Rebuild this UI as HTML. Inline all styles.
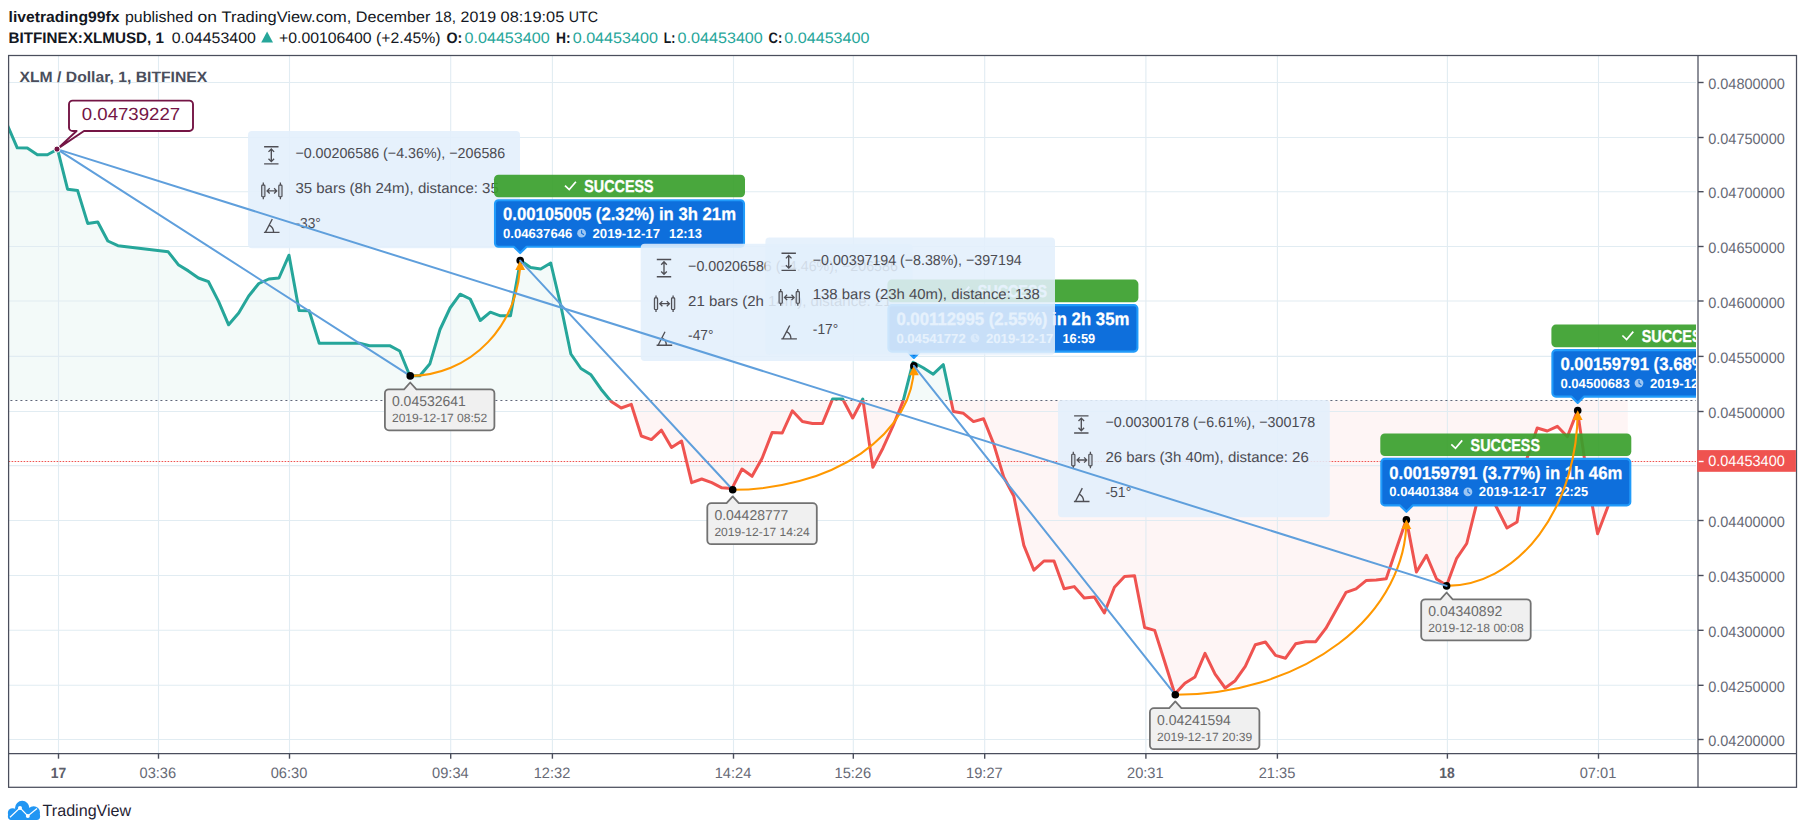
<!DOCTYPE html>
<html><head><meta charset="utf-8"><title>XLMUSD</title>
<style>
html,body{margin:0;padding:0;background:#fff;}
svg{display:block;font-family:"Liberation Sans", sans-serif;}
text{white-space:pre;text-rendering:geometricPrecision;}
</style></head><body>
<svg width="1805" height="834" viewBox="0 0 1805 834">
<rect width="1805" height="834" fill="#fff"/>
<defs>
<clipPath id="pane"><rect x="8.6" y="55.5" width="1687.4" height="698.0"/></clipPath>
<clipPath id="above"><rect x="8.6" y="55.5" width="1689.4" height="345.1"/></clipPath>
<clipPath id="below"><rect x="8.6" y="400.6" width="1689.4" height="352.9"/></clipPath>
</defs>
<text x="8.60" y="22.00" font-size="15.2" fill="#131722" font-weight="bold" text-anchor="start" textLength="110.8" lengthAdjust="spacingAndGlyphs">livetrading99fx</text>
<text x="125.00" y="22.00" font-size="15.2" fill="#131722" font-weight="normal" text-anchor="start" textLength="68.0" lengthAdjust="spacingAndGlyphs">published</text>
<text x="197.50" y="22.00" font-size="15.2" fill="#131722" font-weight="normal" text-anchor="start" textLength="19.5" lengthAdjust="spacingAndGlyphs">on</text>
<text x="221.50" y="22.00" font-size="15.2" fill="#131722" font-weight="normal" text-anchor="start" textLength="129.8" lengthAdjust="spacingAndGlyphs">TradingView.com,</text>
<text x="355.80" y="22.00" font-size="15.2" fill="#131722" font-weight="normal" text-anchor="start" textLength="74.5" lengthAdjust="spacingAndGlyphs">December</text>
<text x="434.80" y="22.00" font-size="15.2" fill="#131722" font-weight="normal" text-anchor="start" textLength="21.3" lengthAdjust="spacingAndGlyphs">18,</text>
<text x="460.60" y="22.00" font-size="15.2" fill="#131722" font-weight="normal" text-anchor="start" textLength="35.5" lengthAdjust="spacingAndGlyphs">2019</text>
<text x="500.60" y="22.00" font-size="15.2" fill="#131722" font-weight="normal" text-anchor="start" textLength="63.7" lengthAdjust="spacingAndGlyphs">08:19:05</text>
<text x="568.80" y="22.00" font-size="15.2" fill="#131722" font-weight="normal" text-anchor="start" textLength="29.2" lengthAdjust="spacingAndGlyphs">UTC</text>
<text x="8.60" y="43.40" font-size="15.2" fill="#131722" font-weight="bold" text-anchor="start" textLength="155.4" lengthAdjust="spacingAndGlyphs">BITFINEX:XLMUSD, 1</text>
<text x="171.70" y="43.40" font-size="15.2" fill="#131722" font-weight="normal" text-anchor="start" textLength="84.2" lengthAdjust="spacingAndGlyphs">0.04453400</text>
<path d="M261.2 42.6 L267.1 31.4 L273 42.6 Z" fill="#26a69a"/>
<text x="279.10" y="43.40" font-size="15.2" fill="#131722" font-weight="normal" text-anchor="start" textLength="161.4" lengthAdjust="spacingAndGlyphs">+0.00106400 (+2.45%)</text>
<text x="446.50" y="43.40" font-size="15.2" fill="#131722" font-weight="bold" text-anchor="start" textLength="15.8" lengthAdjust="spacingAndGlyphs">O:</text>
<text x="464.50" y="43.40" font-size="15.2" fill="#26a69a" font-weight="normal" text-anchor="start" textLength="85.2" lengthAdjust="spacingAndGlyphs">0.04453400</text>
<text x="555.90" y="43.40" font-size="15.2" fill="#131722" font-weight="bold" text-anchor="start" textLength="14.6" lengthAdjust="spacingAndGlyphs">H:</text>
<text x="572.70" y="43.40" font-size="15.2" fill="#26a69a" font-weight="normal" text-anchor="start" textLength="85.2" lengthAdjust="spacingAndGlyphs">0.04453400</text>
<text x="663.80" y="43.40" font-size="15.2" fill="#131722" font-weight="bold" text-anchor="start" textLength="11.6" lengthAdjust="spacingAndGlyphs">L:</text>
<text x="677.60" y="43.40" font-size="15.2" fill="#26a69a" font-weight="normal" text-anchor="start" textLength="85.2" lengthAdjust="spacingAndGlyphs">0.04453400</text>
<text x="768.60" y="43.40" font-size="15.2" fill="#131722" font-weight="bold" text-anchor="start" textLength="13.7" lengthAdjust="spacingAndGlyphs">C:</text>
<text x="784.30" y="43.40" font-size="15.2" fill="#26a69a" font-weight="normal" text-anchor="start" textLength="85.2" lengthAdjust="spacingAndGlyphs">0.04453400</text>
<g clip-path="url(#pane)">
<polygon points="7.17,400.0 7.17,124.50 17.24,147.80 27.30,148.00 37.37,154.70 47.43,154.70 57.50,149.20 67.57,189.20 77.63,190.60 87.70,223.40 97.76,222.00 107.83,241.00 117.90,245.70 168.23,251.80 178.29,264.70 188.36,270.90 198.42,278.00 208.49,281.70 218.56,301.40 228.62,324.80 238.69,313.00 248.75,296.00 258.82,283.50 268.89,279.00 278.95,278.00 289.02,255.20 299.08,310.60 309.15,310.80 319.22,343.20 359.48,343.20 369.55,345.70 389.68,345.70 399.74,351.00 409.81,375.70 419.88,375.70 429.94,363.70 440.01,329.50 450.07,308.00 460.14,294.20 470.21,299.00 480.27,320.50 490.34,312.20 500.40,315.80 510.47,315.80 520.54,260.60 530.60,267.60 540.67,269.00 550.73,263.00 560.80,305.50 570.87,354.00 580.93,368.50 591.00,374.80 601.06,389.20 611.13,401.40 621.20,408.00 631.26,404.30 641.33,436.00 651.39,439.60 661.46,430.20 671.53,447.50 681.59,441.00 691.66,482.70 701.72,479.00 711.79,482.70 721.86,487.80 731.92,488.60 741.99,469.00 752.05,476.30 762.12,458.30 772.19,432.40 782.25,433.00 792.32,410.80 802.38,421.60 812.45,423.40 822.52,423.40 832.58,399.00 842.65,399.00 852.71,418.00 862.78,399.00 872.85,467.30 882.91,448.20 892.98,426.00 903.04,401.40 913.11,362.20 923.18,367.80 933.24,374.20 943.31,364.70 953.37,411.50 963.44,413.30 973.51,421.60 983.57,418.70 993.64,443.90 1003.70,477.00 1013.77,496.00 1023.84,545.40 1033.90,570.20 1043.97,561.00 1054.03,561.00 1064.10,588.70 1074.17,586.60 1084.23,598.00 1094.30,597.00 1104.36,613.00 1114.43,587.20 1124.50,576.40 1134.56,575.70 1144.63,627.50 1154.69,630.40 1164.76,662.00 1174.83,694.00 1184.89,683.20 1194.96,677.00 1205.02,653.40 1215.09,674.20 1225.16,688.00 1235.22,680.70 1245.29,666.30 1255.35,644.70 1265.42,642.00 1275.49,655.40 1285.55,658.20 1295.62,643.80 1305.68,641.70 1315.75,641.70 1325.82,628.40 1335.88,610.40 1345.95,592.40 1356.01,588.80 1366.08,580.60 1376.15,579.90 1386.21,578.80 1396.28,549.00 1406.34,519.40 1416.41,572.00 1426.48,555.40 1436.54,579.00 1446.61,585.50 1456.67,558.30 1466.74,543.50 1476.81,503.00 1486.87,490.00 1496.94,508.00 1507.00,528.00 1517.07,522.00 1527.14,458.00 1537.20,428.00 1547.27,431.00 1557.33,426.30 1567.40,436.70 1577.47,410.60 1587.53,480.00 1597.60,533.70 1607.66,507.20 1617.73,480.00 1627.80,461.50 1627.80,400.0" fill="rgba(38,166,154,0.055)" clip-path="url(#above)"/>
<polygon points="7.17,400.0 7.17,124.50 17.24,147.80 27.30,148.00 37.37,154.70 47.43,154.70 57.50,149.20 67.57,189.20 77.63,190.60 87.70,223.40 97.76,222.00 107.83,241.00 117.90,245.70 168.23,251.80 178.29,264.70 188.36,270.90 198.42,278.00 208.49,281.70 218.56,301.40 228.62,324.80 238.69,313.00 248.75,296.00 258.82,283.50 268.89,279.00 278.95,278.00 289.02,255.20 299.08,310.60 309.15,310.80 319.22,343.20 359.48,343.20 369.55,345.70 389.68,345.70 399.74,351.00 409.81,375.70 419.88,375.70 429.94,363.70 440.01,329.50 450.07,308.00 460.14,294.20 470.21,299.00 480.27,320.50 490.34,312.20 500.40,315.80 510.47,315.80 520.54,260.60 530.60,267.60 540.67,269.00 550.73,263.00 560.80,305.50 570.87,354.00 580.93,368.50 591.00,374.80 601.06,389.20 611.13,401.40 621.20,408.00 631.26,404.30 641.33,436.00 651.39,439.60 661.46,430.20 671.53,447.50 681.59,441.00 691.66,482.70 701.72,479.00 711.79,482.70 721.86,487.80 731.92,488.60 741.99,469.00 752.05,476.30 762.12,458.30 772.19,432.40 782.25,433.00 792.32,410.80 802.38,421.60 812.45,423.40 822.52,423.40 832.58,399.00 842.65,399.00 852.71,418.00 862.78,399.00 872.85,467.30 882.91,448.20 892.98,426.00 903.04,401.40 913.11,362.20 923.18,367.80 933.24,374.20 943.31,364.70 953.37,411.50 963.44,413.30 973.51,421.60 983.57,418.70 993.64,443.90 1003.70,477.00 1013.77,496.00 1023.84,545.40 1033.90,570.20 1043.97,561.00 1054.03,561.00 1064.10,588.70 1074.17,586.60 1084.23,598.00 1094.30,597.00 1104.36,613.00 1114.43,587.20 1124.50,576.40 1134.56,575.70 1144.63,627.50 1154.69,630.40 1164.76,662.00 1174.83,694.00 1184.89,683.20 1194.96,677.00 1205.02,653.40 1215.09,674.20 1225.16,688.00 1235.22,680.70 1245.29,666.30 1255.35,644.70 1265.42,642.00 1275.49,655.40 1285.55,658.20 1295.62,643.80 1305.68,641.70 1315.75,641.70 1325.82,628.40 1335.88,610.40 1345.95,592.40 1356.01,588.80 1366.08,580.60 1376.15,579.90 1386.21,578.80 1396.28,549.00 1406.34,519.40 1416.41,572.00 1426.48,555.40 1436.54,579.00 1446.61,585.50 1456.67,558.30 1466.74,543.50 1476.81,503.00 1486.87,490.00 1496.94,508.00 1507.00,528.00 1517.07,522.00 1527.14,458.00 1537.20,428.00 1547.27,431.00 1557.33,426.30 1567.40,436.70 1577.47,410.60 1587.53,480.00 1597.60,533.70 1607.66,507.20 1617.73,480.00 1627.80,461.50 1627.80,400.0" fill="rgba(239,83,80,0.06)" clip-path="url(#below)"/>
<line x1="8.6" x2="1698.0" y1="82.50" y2="82.50" stroke="#e1ecf2" stroke-width="1.1"/>
<line x1="8.6" x2="1698.0" y1="137.50" y2="137.50" stroke="#e1ecf2" stroke-width="1.1"/>
<line x1="8.6" x2="1698.0" y1="191.70" y2="191.70" stroke="#e1ecf2" stroke-width="1.1"/>
<line x1="8.6" x2="1698.0" y1="246.50" y2="246.50" stroke="#e1ecf2" stroke-width="1.1"/>
<line x1="8.6" x2="1698.0" y1="301.00" y2="301.00" stroke="#e1ecf2" stroke-width="1.1"/>
<line x1="8.6" x2="1698.0" y1="356.40" y2="356.40" stroke="#e1ecf2" stroke-width="1.1"/>
<line x1="8.6" x2="1698.0" y1="411.50" y2="411.50" stroke="#e1ecf2" stroke-width="1.1"/>
<line x1="8.6" x2="1698.0" y1="465.60" y2="465.60" stroke="#e1ecf2" stroke-width="1.1"/>
<line x1="8.6" x2="1698.0" y1="520.50" y2="520.50" stroke="#e1ecf2" stroke-width="1.1"/>
<line x1="8.6" x2="1698.0" y1="575.50" y2="575.50" stroke="#e1ecf2" stroke-width="1.1"/>
<line x1="8.6" x2="1698.0" y1="630.30" y2="630.30" stroke="#e1ecf2" stroke-width="1.1"/>
<line x1="8.6" x2="1698.0" y1="685.30" y2="685.30" stroke="#e1ecf2" stroke-width="1.1"/>
<line x1="8.6" x2="1698.0" y1="739.50" y2="739.50" stroke="#e1ecf2" stroke-width="1.1"/>
<line x1="58.5" x2="58.5" y1="55.5" y2="753.5" stroke="#e1ecf2" stroke-width="1.1"/>
<line x1="158.5" x2="158.5" y1="55.5" y2="753.5" stroke="#e1ecf2" stroke-width="1.1"/>
<line x1="289.5" x2="289.5" y1="55.5" y2="753.5" stroke="#e1ecf2" stroke-width="1.1"/>
<line x1="450.7" x2="450.7" y1="55.5" y2="753.5" stroke="#e1ecf2" stroke-width="1.1"/>
<line x1="552.4" x2="552.4" y1="55.5" y2="753.5" stroke="#e1ecf2" stroke-width="1.1"/>
<line x1="733.5" x2="733.5" y1="55.5" y2="753.5" stroke="#e1ecf2" stroke-width="1.1"/>
<line x1="853.3" x2="853.3" y1="55.5" y2="753.5" stroke="#e1ecf2" stroke-width="1.1"/>
<line x1="984.7" x2="984.7" y1="55.5" y2="753.5" stroke="#e1ecf2" stroke-width="1.1"/>
<line x1="1145.9" x2="1145.9" y1="55.5" y2="753.5" stroke="#e1ecf2" stroke-width="1.1"/>
<line x1="1277.4" x2="1277.4" y1="55.5" y2="753.5" stroke="#e1ecf2" stroke-width="1.1"/>
<line x1="1447.4" x2="1447.4" y1="55.5" y2="753.5" stroke="#e1ecf2" stroke-width="1.1"/>
<line x1="1598.5" x2="1598.5" y1="55.5" y2="753.5" stroke="#e1ecf2" stroke-width="1.1"/>
<line x1="8.6" x2="1698.0" y1="400.45" y2="400.45" stroke="#5f6679" stroke-width="1.1" stroke-dasharray="2.0 3.0" stroke-dashoffset="3.2"/>
<line x1="8.6" x2="1698.0" y1="461.5" y2="461.5" stroke="#ef5350" stroke-width="1.2" stroke-dasharray="1.6 1.4"/>
<polyline points="7.17,124.50 17.24,147.80 27.30,148.00 37.37,154.70 47.43,154.70 57.50,149.20 67.57,189.20 77.63,190.60 87.70,223.40 97.76,222.00 107.83,241.00 117.90,245.70 168.23,251.80 178.29,264.70 188.36,270.90 198.42,278.00 208.49,281.70 218.56,301.40 228.62,324.80 238.69,313.00 248.75,296.00 258.82,283.50 268.89,279.00 278.95,278.00 289.02,255.20 299.08,310.60 309.15,310.80 319.22,343.20 359.48,343.20 369.55,345.70 389.68,345.70 399.74,351.00 409.81,375.70 419.88,375.70 429.94,363.70 440.01,329.50 450.07,308.00 460.14,294.20 470.21,299.00 480.27,320.50 490.34,312.20 500.40,315.80 510.47,315.80 520.54,260.60 530.60,267.60 540.67,269.00 550.73,263.00 560.80,305.50 570.87,354.00 580.93,368.50 591.00,374.80 601.06,389.20 611.13,401.40 621.20,408.00 631.26,404.30 641.33,436.00 651.39,439.60 661.46,430.20 671.53,447.50 681.59,441.00 691.66,482.70 701.72,479.00 711.79,482.70 721.86,487.80 731.92,488.60 741.99,469.00 752.05,476.30 762.12,458.30 772.19,432.40 782.25,433.00 792.32,410.80 802.38,421.60 812.45,423.40 822.52,423.40 832.58,399.00 842.65,399.00 852.71,418.00 862.78,399.00 872.85,467.30 882.91,448.20 892.98,426.00 903.04,401.40 913.11,362.20 923.18,367.80 933.24,374.20 943.31,364.70 953.37,411.50 963.44,413.30 973.51,421.60 983.57,418.70 993.64,443.90 1003.70,477.00 1013.77,496.00 1023.84,545.40 1033.90,570.20 1043.97,561.00 1054.03,561.00 1064.10,588.70 1074.17,586.60 1084.23,598.00 1094.30,597.00 1104.36,613.00 1114.43,587.20 1124.50,576.40 1134.56,575.70 1144.63,627.50 1154.69,630.40 1164.76,662.00 1174.83,694.00 1184.89,683.20 1194.96,677.00 1205.02,653.40 1215.09,674.20 1225.16,688.00 1235.22,680.70 1245.29,666.30 1255.35,644.70 1265.42,642.00 1275.49,655.40 1285.55,658.20 1295.62,643.80 1305.68,641.70 1315.75,641.70 1325.82,628.40 1335.88,610.40 1345.95,592.40 1356.01,588.80 1366.08,580.60 1376.15,579.90 1386.21,578.80 1396.28,549.00 1406.34,519.40 1416.41,572.00 1426.48,555.40 1436.54,579.00 1446.61,585.50 1456.67,558.30 1466.74,543.50 1476.81,503.00 1486.87,490.00 1496.94,508.00 1507.00,528.00 1517.07,522.00 1527.14,458.00 1537.20,428.00 1547.27,431.00 1557.33,426.30 1567.40,436.70 1577.47,410.60 1587.53,480.00 1597.60,533.70 1607.66,507.20 1617.73,480.00 1627.80,461.50" fill="none" stroke="#26a69a" stroke-width="3" stroke-linejoin="round" stroke-linecap="round" clip-path="url(#above)"/>
<polyline points="7.17,124.50 17.24,147.80 27.30,148.00 37.37,154.70 47.43,154.70 57.50,149.20 67.57,189.20 77.63,190.60 87.70,223.40 97.76,222.00 107.83,241.00 117.90,245.70 168.23,251.80 178.29,264.70 188.36,270.90 198.42,278.00 208.49,281.70 218.56,301.40 228.62,324.80 238.69,313.00 248.75,296.00 258.82,283.50 268.89,279.00 278.95,278.00 289.02,255.20 299.08,310.60 309.15,310.80 319.22,343.20 359.48,343.20 369.55,345.70 389.68,345.70 399.74,351.00 409.81,375.70 419.88,375.70 429.94,363.70 440.01,329.50 450.07,308.00 460.14,294.20 470.21,299.00 480.27,320.50 490.34,312.20 500.40,315.80 510.47,315.80 520.54,260.60 530.60,267.60 540.67,269.00 550.73,263.00 560.80,305.50 570.87,354.00 580.93,368.50 591.00,374.80 601.06,389.20 611.13,401.40 621.20,408.00 631.26,404.30 641.33,436.00 651.39,439.60 661.46,430.20 671.53,447.50 681.59,441.00 691.66,482.70 701.72,479.00 711.79,482.70 721.86,487.80 731.92,488.60 741.99,469.00 752.05,476.30 762.12,458.30 772.19,432.40 782.25,433.00 792.32,410.80 802.38,421.60 812.45,423.40 822.52,423.40 832.58,399.00 842.65,399.00 852.71,418.00 862.78,399.00 872.85,467.30 882.91,448.20 892.98,426.00 903.04,401.40 913.11,362.20 923.18,367.80 933.24,374.20 943.31,364.70 953.37,411.50 963.44,413.30 973.51,421.60 983.57,418.70 993.64,443.90 1003.70,477.00 1013.77,496.00 1023.84,545.40 1033.90,570.20 1043.97,561.00 1054.03,561.00 1064.10,588.70 1074.17,586.60 1084.23,598.00 1094.30,597.00 1104.36,613.00 1114.43,587.20 1124.50,576.40 1134.56,575.70 1144.63,627.50 1154.69,630.40 1164.76,662.00 1174.83,694.00 1184.89,683.20 1194.96,677.00 1205.02,653.40 1215.09,674.20 1225.16,688.00 1235.22,680.70 1245.29,666.30 1255.35,644.70 1265.42,642.00 1275.49,655.40 1285.55,658.20 1295.62,643.80 1305.68,641.70 1315.75,641.70 1325.82,628.40 1335.88,610.40 1345.95,592.40 1356.01,588.80 1366.08,580.60 1376.15,579.90 1386.21,578.80 1396.28,549.00 1406.34,519.40 1416.41,572.00 1426.48,555.40 1436.54,579.00 1446.61,585.50 1456.67,558.30 1466.74,543.50 1476.81,503.00 1486.87,490.00 1496.94,508.00 1507.00,528.00 1517.07,522.00 1527.14,458.00 1537.20,428.00 1547.27,431.00 1557.33,426.30 1567.40,436.70 1577.47,410.60 1587.53,480.00 1597.60,533.70 1607.66,507.20 1617.73,480.00 1627.80,461.50" fill="none" stroke="#ef5350" stroke-width="3" stroke-linejoin="round" stroke-linecap="round" clip-path="url(#below)"/>
<text x="19.50" y="82.00" font-size="15" fill="#4a4e5c" font-weight="bold" text-anchor="start" textLength="187.8" lengthAdjust="spacingAndGlyphs">XLM / Dollar, 1, BITFINEX</text>
<rect x="248.0" y="130.9" width="272.0" height="117.3" rx="4" fill="rgba(226,239,252,0.88)"/>
<g stroke="#4f4f55" stroke-width="1.35" fill="none" stroke-linecap="butt"><path d="M264.1 146.7H278.5M264.1 163.9H278.5M271.3 149.3V161.3M268.5 151.9L271.3 149.0L274.1 151.9M268.5 158.7L271.3 161.6L274.1 158.7"/></g>
<g stroke="#4f4f55" stroke-width="1.3" fill="none"><path d="M263.3 182.6V199.2M280.4 182.6V199.2"/><rect x="261.7" y="185.1" width="3.2" height="11.6" rx="0.8" fill="#cfd9e4" stroke-width="1.15"/><rect x="278.8" y="185.1" width="3.2" height="11.6" rx="0.8" fill="#cfd9e4" stroke-width="1.15"/><path d="M267.3 190.9H276.5M269.7 188.3L267.1 190.9L269.7 193.5M274.1 188.3L276.7 190.9L274.1 193.5"/></g>
<g stroke="#4f4f55" stroke-width="1.35" fill="none"><path d="M263.9 232.4H279.5M265.4 232.4L272.3 219.0M273.6 232.4A8.2 8.2 0 0 0 269.3 225.1"/></g>
<text x="295.40" y="158.20" font-size="14.5" fill="#4b4b52" font-weight="normal" text-anchor="start" textLength="209.8" lengthAdjust="spacingAndGlyphs">−0.00206586 (−4.36%), −206586</text>
<text x="295.40" y="192.85" font-size="14.5" fill="#4b4b52" font-weight="normal" text-anchor="start" textLength="203.4" lengthAdjust="spacingAndGlyphs">35 bars (8h 24m), distance: 35</text>
<text x="295.40" y="227.50" font-size="14.5" fill="#4b4b52" font-weight="normal" text-anchor="start" textLength="25.4" lengthAdjust="spacingAndGlyphs">-33°</text>
<line x1="57.00" y1="149.10" x2="410.25" y2="375.90" stroke="#5f9fdc" stroke-width="2" stroke-linecap="round"/>
<path d="M388.9 389.3H404.1L410.2 382.5L416.4 389.3H490.4a4 4 0 0 1 4 4V426.3a4 4 0 0 1 -4 4H388.9a4 4 0 0 1 -4 -4V393.3a4 4 0 0 1 4 -4Z" fill="#f0f0f0" stroke="#727272" stroke-width="1.8" stroke-linejoin="round"/>
<text x="391.95" y="405.60" font-size="14.2" fill="#6a6a6a" font-weight="normal" text-anchor="start" textLength="73.9" lengthAdjust="spacingAndGlyphs">0.04532641</text>
<text x="391.95" y="422.00" font-size="12" fill="#6a6a6a" font-weight="normal" text-anchor="start" textLength="95.3" lengthAdjust="spacingAndGlyphs">2019-12-17 08:52</text>
<path d="M410.25 375.90A109.95 115.30 0 0 0 520.20 260.60" fill="none" stroke="#ff9800" stroke-width="2.1"/>
<circle cx="410.25" cy="375.90" r="3.8" fill="#000"/>
<circle cx="520.20" cy="260.60" r="3.8" fill="#000"/>
<path d="M520.20 260.30L525.10 270.00L515.30 270.00Z" fill="#ff9800"/>
<rect x="494.0" y="174.7" width="251.0" height="22.6" rx="4.5" fill="rgba(58,160,44,0.92)"/>
<path d="M498.5 200.2H740.5a3.5 3.5 0 0 1 3.5 3.5V243.2a3.5 3.5 0 0 1 -3.5 3.5H526.6L520.2 253.1L513.8 246.7H498.5a3.5 3.5 0 0 1 -3.5 -3.5V203.7a3.5 3.5 0 0 1 3.5 -3.5Z" fill="#0e6fdc" stroke="#219bfa" stroke-width="2.1" stroke-linejoin="round"/>
<path d="M565.0 185.6L569.2 189.6L575.9 181.7" fill="none" stroke="#fff" stroke-width="1.7"/>
<text x="584.30" y="191.90" font-size="17.2" fill="#fff" font-weight="bold" text-anchor="start" textLength="69.4" lengthAdjust="spacingAndGlyphs" stroke="#fff" stroke-width="0.35">SUCCESS</text>
<text x="503.00" y="219.80" font-size="17.9" fill="#fff" font-weight="bold" text-anchor="start" textLength="233.0" lengthAdjust="spacingAndGlyphs" stroke="#fff" stroke-width="0.25">0.00105005 (2.32%) in 3h 21m</text>
<text x="503.00" y="237.60" font-size="13.2" fill="#fff" font-weight="bold" text-anchor="start" textLength="69.3" lengthAdjust="spacingAndGlyphs">0.04637646</text>
<circle cx="581.6" cy="233.2" r="4.4" fill="#9cc6f3"/>
<path d="M581.6 230.2V233.2L583.9 234.8" fill="none" stroke="#0e6fdc" stroke-width="1.1"/>
<text x="592.50" y="237.60" font-size="13.2" fill="#fff" font-weight="bold" text-anchor="start" textLength="67.5" lengthAdjust="spacingAndGlyphs">2019-12-17</text>
<text x="669.00" y="237.60" font-size="13.2" fill="#fff" font-weight="bold" text-anchor="start" textLength="32.8" lengthAdjust="spacingAndGlyphs">12:13</text>
<rect x="640.7" y="243.7" width="272.0" height="117.3" rx="4" fill="rgba(226,239,252,0.88)"/>
<g stroke="#4f4f55" stroke-width="1.35" fill="none" stroke-linecap="butt"><path d="M656.8 259.5H671.2M656.8 276.7H671.2M664.0 262.1V274.1M661.2 264.7L664.0 261.8L666.8 264.7M661.2 271.5L664.0 274.4L666.8 271.5"/></g>
<g stroke="#4f4f55" stroke-width="1.3" fill="none"><path d="M656.0 295.4V312.0M673.1 295.4V312.0"/><rect x="654.4" y="297.9" width="3.2" height="11.6" rx="0.8" fill="#cfd9e4" stroke-width="1.15"/><rect x="671.5" y="297.9" width="3.2" height="11.6" rx="0.8" fill="#cfd9e4" stroke-width="1.15"/><path d="M660.0 303.7H669.2M662.4 301.1L659.8 303.7L662.4 306.3M666.8 301.1L669.4 303.7L666.8 306.3"/></g>
<g stroke="#4f4f55" stroke-width="1.35" fill="none"><path d="M656.6 345.2H672.2M658.1 345.2L665.0 331.8M666.3 345.2A8.2 8.2 0 0 0 662.0 337.9"/></g>
<text x="688.10" y="271.00" font-size="14.5" fill="#4b4b52" font-weight="normal" text-anchor="start" textLength="209.8" lengthAdjust="spacingAndGlyphs">−0.00206586 (−4.46%), −206586</text>
<text x="688.10" y="305.65" font-size="14.5" fill="#4b4b52" font-weight="normal" text-anchor="start" textLength="203.4" lengthAdjust="spacingAndGlyphs">21 bars (2h 14m), distance: 21</text>
<text x="688.10" y="340.30" font-size="14.5" fill="#4b4b52" font-weight="normal" text-anchor="start" textLength="25.4" lengthAdjust="spacingAndGlyphs">-47°</text>
<line x1="520.20" y1="260.60" x2="732.70" y2="489.80" stroke="#5f9fdc" stroke-width="2" stroke-linecap="round"/>
<path d="M711.3 503.2H726.6L732.7 496.4L738.8 503.2H812.8a4 4 0 0 1 4 4V540.2a4 4 0 0 1 -4 4H711.3a4 4 0 0 1 -4 -4V507.2a4 4 0 0 1 4 -4Z" fill="#f0f0f0" stroke="#727272" stroke-width="1.8" stroke-linejoin="round"/>
<text x="714.40" y="519.50" font-size="14.2" fill="#6a6a6a" font-weight="normal" text-anchor="start" textLength="73.9" lengthAdjust="spacingAndGlyphs">0.04428777</text>
<text x="714.40" y="535.90" font-size="12" fill="#6a6a6a" font-weight="normal" text-anchor="start" textLength="95.3" lengthAdjust="spacingAndGlyphs">2019-12-17 14:24</text>
<path d="M732.70 489.80A181.20 123.90 0 0 0 913.90 365.90" fill="none" stroke="#ff9800" stroke-width="2.1"/>
<circle cx="732.70" cy="489.80" r="3.8" fill="#000"/>
<circle cx="913.90" cy="365.90" r="3.8" fill="#000"/>
<path d="M913.90 365.60L918.80 375.30L909.00 375.30Z" fill="#ff9800"/>
<rect x="887.4" y="279.6" width="251.0" height="22.6" rx="4.5" fill="rgba(58,160,44,0.92)"/>
<path d="M891.9 305.1H1133.9a3.5 3.5 0 0 1 3.5 3.5V348.1a3.5 3.5 0 0 1 -3.5 3.5H920.3L913.9 358.0L907.5 351.6H891.9a3.5 3.5 0 0 1 -3.5 -3.5V308.6a3.5 3.5 0 0 1 3.5 -3.5Z" fill="#0e6fdc" stroke="#219bfa" stroke-width="2.1" stroke-linejoin="round"/>
<path d="M958.4 290.5L962.6 294.5L969.3 286.6" fill="none" stroke="#fff" stroke-width="1.7"/>
<text x="977.70" y="296.80" font-size="17.2" fill="#fff" font-weight="bold" text-anchor="start" textLength="69.4" lengthAdjust="spacingAndGlyphs" stroke="#fff" stroke-width="0.35">SUCCESS</text>
<text x="896.40" y="324.70" font-size="17.9" fill="#fff" font-weight="bold" text-anchor="start" textLength="233.0" lengthAdjust="spacingAndGlyphs" stroke="#fff" stroke-width="0.25">0.00112995 (2.55%) in 2h 35m</text>
<text x="896.40" y="342.50" font-size="13.2" fill="#fff" font-weight="bold" text-anchor="start" textLength="69.3" lengthAdjust="spacingAndGlyphs">0.04541772</text>
<circle cx="975.0" cy="338.1" r="4.4" fill="#9cc6f3"/>
<path d="M975.0 335.1V338.1L977.3 339.7" fill="none" stroke="#0e6fdc" stroke-width="1.1"/>
<text x="985.90" y="342.50" font-size="13.2" fill="#fff" font-weight="bold" text-anchor="start" textLength="67.5" lengthAdjust="spacingAndGlyphs">2019-12-17</text>
<text x="1062.40" y="342.50" font-size="13.2" fill="#fff" font-weight="bold" text-anchor="start" textLength="32.8" lengthAdjust="spacingAndGlyphs">16:59</text>
<rect x="1058.0" y="400.0" width="271.8" height="117.3" rx="4" fill="rgba(226,239,252,0.88)"/>
<g stroke="#4f4f55" stroke-width="1.35" fill="none" stroke-linecap="butt"><path d="M1074.1 415.8H1088.5M1074.1 433.0H1088.5M1081.3 418.4V430.4M1078.5 421.0L1081.3 418.1L1084.1 421.0M1078.5 427.8L1081.3 430.7L1084.1 427.8"/></g>
<g stroke="#4f4f55" stroke-width="1.3" fill="none"><path d="M1073.3 451.7V468.3M1090.4 451.7V468.3"/><rect x="1071.7" y="454.2" width="3.2" height="11.6" rx="0.8" fill="#cfd9e4" stroke-width="1.15"/><rect x="1088.8" y="454.2" width="3.2" height="11.6" rx="0.8" fill="#cfd9e4" stroke-width="1.15"/><path d="M1077.3 460.0H1086.5M1079.7 457.4L1077.1 460.0L1079.7 462.6M1084.1 457.4L1086.7 460.0L1084.1 462.6"/></g>
<g stroke="#4f4f55" stroke-width="1.35" fill="none"><path d="M1073.9 501.5H1089.5M1075.4 501.5L1082.3 488.1M1083.6 501.5A8.2 8.2 0 0 0 1079.3 494.2"/></g>
<text x="1105.40" y="427.30" font-size="14.5" fill="#4b4b52" font-weight="normal" text-anchor="start" textLength="209.8" lengthAdjust="spacingAndGlyphs">−0.00300178 (−6.61%), −300178</text>
<text x="1105.40" y="461.95" font-size="14.5" fill="#4b4b52" font-weight="normal" text-anchor="start" textLength="203.4" lengthAdjust="spacingAndGlyphs">26 bars (3h 40m), distance: 26</text>
<text x="1105.40" y="496.60" font-size="14.5" fill="#4b4b52" font-weight="normal" text-anchor="start" textLength="25.9" lengthAdjust="spacingAndGlyphs">-51°</text>
<line x1="913.90" y1="365.90" x2="1175.30" y2="694.80" stroke="#5f9fdc" stroke-width="2" stroke-linecap="round"/>
<path d="M1153.9 708.2H1169.2L1175.3 701.4L1181.4 708.2H1255.4a4 4 0 0 1 4 4V745.2a4 4 0 0 1 -4 4H1153.9a4 4 0 0 1 -4 -4V712.2a4 4 0 0 1 4 -4Z" fill="#f0f0f0" stroke="#727272" stroke-width="1.8" stroke-linejoin="round"/>
<text x="1157.00" y="724.50" font-size="14.2" fill="#6a6a6a" font-weight="normal" text-anchor="start" textLength="73.9" lengthAdjust="spacingAndGlyphs">0.04241594</text>
<text x="1157.00" y="740.90" font-size="12" fill="#6a6a6a" font-weight="normal" text-anchor="start" textLength="95.3" lengthAdjust="spacingAndGlyphs">2019-12-17 20:39</text>
<path d="M1175.30 694.80A231.10 175.10 0 0 0 1406.40 519.70" fill="none" stroke="#ff9800" stroke-width="2.1"/>
<circle cx="1175.30" cy="694.80" r="3.8" fill="#000"/>
<circle cx="1406.40" cy="519.70" r="3.8" fill="#000"/>
<path d="M1406.40 519.40L1411.30 529.10L1401.50 529.10Z" fill="#ff9800"/>
<rect x="1380.3" y="433.4" width="251.0" height="22.6" rx="4.5" fill="rgba(58,160,44,0.92)"/>
<path d="M1384.8 458.9H1626.8a3.5 3.5 0 0 1 3.5 3.5V501.9a3.5 3.5 0 0 1 -3.5 3.5H1412.8L1406.4 511.8L1400.0 505.4H1384.8a3.5 3.5 0 0 1 -3.5 -3.5V462.4a3.5 3.5 0 0 1 3.5 -3.5Z" fill="#0e6fdc" stroke="#219bfa" stroke-width="2.1" stroke-linejoin="round"/>
<path d="M1451.3 444.3L1455.5 448.3L1462.2 440.4" fill="none" stroke="#fff" stroke-width="1.7"/>
<text x="1470.60" y="450.60" font-size="17.2" fill="#fff" font-weight="bold" text-anchor="start" textLength="69.4" lengthAdjust="spacingAndGlyphs" stroke="#fff" stroke-width="0.35">SUCCESS</text>
<text x="1389.30" y="478.50" font-size="17.9" fill="#fff" font-weight="bold" text-anchor="start" textLength="233.0" lengthAdjust="spacingAndGlyphs" stroke="#fff" stroke-width="0.25">0.00159791 (3.77%) in 1h 46m</text>
<text x="1389.30" y="496.30" font-size="13.2" fill="#fff" font-weight="bold" text-anchor="start" textLength="69.3" lengthAdjust="spacingAndGlyphs">0.04401384</text>
<circle cx="1467.9" cy="491.9" r="4.4" fill="#9cc6f3"/>
<path d="M1467.9 488.9V491.9L1470.2 493.5" fill="none" stroke="#0e6fdc" stroke-width="1.1"/>
<text x="1478.80" y="496.30" font-size="13.2" fill="#fff" font-weight="bold" text-anchor="start" textLength="67.5" lengthAdjust="spacingAndGlyphs">2019-12-17</text>
<text x="1555.30" y="496.30" font-size="13.2" fill="#fff" font-weight="bold" text-anchor="start" textLength="32.8" lengthAdjust="spacingAndGlyphs">22:25</text>
<path d="M1425.2 599.3H1440.5L1446.6 592.5L1452.7 599.3H1526.7a4 4 0 0 1 4 4V636.3a4 4 0 0 1 -4 4H1425.2a4 4 0 0 1 -4 -4V603.3a4 4 0 0 1 4 -4Z" fill="#f0f0f0" stroke="#727272" stroke-width="1.8" stroke-linejoin="round"/>
<text x="1428.30" y="615.60" font-size="14.2" fill="#6a6a6a" font-weight="normal" text-anchor="start" textLength="73.9" lengthAdjust="spacingAndGlyphs">0.04340892</text>
<text x="1428.30" y="632.00" font-size="12" fill="#6a6a6a" font-weight="normal" text-anchor="start" textLength="95.3" lengthAdjust="spacingAndGlyphs">2019-12-18 00:08</text>
<path d="M1446.60 585.90A131.10 175.30 0 0 0 1577.70 410.60" fill="none" stroke="#ff9800" stroke-width="2.1"/>
<circle cx="1446.60" cy="585.90" r="3.8" fill="#000"/>
<circle cx="1577.70" cy="410.60" r="3.8" fill="#000"/>
<path d="M1577.70 410.30L1582.60 420.00L1572.80 420.00Z" fill="#ff9800"/>
<rect x="1551.4" y="324.6" width="251.0" height="22.6" rx="4.5" fill="rgba(58,160,44,0.92)"/>
<path d="M1555.9 350.1H1797.9a3.5 3.5 0 0 1 3.5 3.5V393.1a3.5 3.5 0 0 1 -3.5 3.5H1584.1L1577.7 403.0L1571.3 396.6H1555.9a3.5 3.5 0 0 1 -3.5 -3.5V353.6a3.5 3.5 0 0 1 3.5 -3.5Z" fill="#0e6fdc" stroke="#219bfa" stroke-width="2.1" stroke-linejoin="round"/>
<path d="M1622.4 335.5L1626.6 339.5L1633.3 331.6" fill="none" stroke="#fff" stroke-width="1.7"/>
<text x="1641.70" y="341.80" font-size="17.2" fill="#fff" font-weight="bold" text-anchor="start" textLength="69.4" lengthAdjust="spacingAndGlyphs" stroke="#fff" stroke-width="0.35">SUCCESS</text>
<text x="1560.40" y="369.70" font-size="17.9" fill="#fff" font-weight="bold" text-anchor="start" textLength="233.0" lengthAdjust="spacingAndGlyphs" stroke="#fff" stroke-width="0.25">0.00159791 (3.68%) in 2h 11m</text>
<text x="1560.40" y="387.50" font-size="13.2" fill="#fff" font-weight="bold" text-anchor="start" textLength="69.3" lengthAdjust="spacingAndGlyphs">0.04500683</text>
<circle cx="1639.0" cy="383.1" r="4.4" fill="#9cc6f3"/>
<path d="M1639.0 380.1V383.1L1641.3 384.7" fill="none" stroke="#0e6fdc" stroke-width="1.1"/>
<text x="1649.90" y="387.50" font-size="13.2" fill="#fff" font-weight="bold" text-anchor="start" textLength="67.5" lengthAdjust="spacingAndGlyphs">2019-12-18</text>
<text x="1726.40" y="387.50" font-size="13.2" fill="#fff" font-weight="bold" text-anchor="start" textLength="32.8" lengthAdjust="spacingAndGlyphs">02:19</text>
<rect x="765.4" y="237.4" width="289.6" height="117.3" rx="4" fill="rgba(226,239,252,0.88)"/>
<g stroke="#4f4f55" stroke-width="1.35" fill="none" stroke-linecap="butt"><path d="M781.5 253.2H795.9M781.5 270.4H795.9M788.7 255.8V267.8M785.9 258.4L788.7 255.5L791.5 258.4M785.9 265.2L788.7 268.1L791.5 265.2"/></g>
<g stroke="#4f4f55" stroke-width="1.3" fill="none"><path d="M780.7 289.1V305.7M797.8 289.1V305.7"/><rect x="779.1" y="291.6" width="3.2" height="11.6" rx="0.8" fill="#cfd9e4" stroke-width="1.15"/><rect x="796.2" y="291.6" width="3.2" height="11.6" rx="0.8" fill="#cfd9e4" stroke-width="1.15"/><path d="M784.7 297.4H793.9M787.1 294.8L784.5 297.4L787.1 300.0M791.5 294.8L794.1 297.4L791.5 300.0"/></g>
<g stroke="#4f4f55" stroke-width="1.35" fill="none"><path d="M781.3 338.9H796.9M782.8 338.9L789.7 325.5M791.0 338.9A8.2 8.2 0 0 0 786.7 331.6"/></g>
<text x="812.80" y="264.70" font-size="14.5" fill="#4b4b52" font-weight="normal" text-anchor="start" textLength="208.9" lengthAdjust="spacingAndGlyphs">−0.00397194 (−8.38%), −397194</text>
<text x="812.80" y="299.35" font-size="14.5" fill="#4b4b52" font-weight="normal" text-anchor="start" textLength="227.0" lengthAdjust="spacingAndGlyphs">138 bars (23h 40m), distance: 138</text>
<text x="812.80" y="334.00" font-size="14.5" fill="#4b4b52" font-weight="normal" text-anchor="start" textLength="25.4" lengthAdjust="spacingAndGlyphs">-17°</text>
<line x1="57.00" y1="149.10" x2="1446.60" y2="585.90" stroke="#5f9fdc" stroke-width="2" stroke-linecap="round"/>
<path d="M72.6 100.6H189.4a3.6 3.6 0 0 1 3.6 3.6V127.4a3.6 3.6 0 0 1 -3.6 3.6H84.0L57.0 149.1L76.6 131.0H72.6a3.6 3.6 0 0 1 -3.6 -3.6V104.2a3.6 3.6 0 0 1 3.6 -3.6Z" fill="#fff" stroke="#741545" stroke-width="1.9" stroke-linejoin="round"/>
<text x="81.80" y="119.60" font-size="17.6" fill="#741545" font-weight="normal" text-anchor="start" textLength="98.3" lengthAdjust="spacingAndGlyphs">0.04739227</text>
<circle cx="57.0" cy="149.1" r="3.1" fill="#741545" stroke="#fff" stroke-width="1"/>
</g>
<rect x="8.6" y="55.5" width="1787.9" height="731.8" fill="none" stroke="#4a4e5c" stroke-width="1.25"/>
<line x1="1698.0" x2="1698.0" y1="55.5" y2="787.3" stroke="#4a4e5c" stroke-width="1.25"/>
<line x1="8.6" x2="1796.5" y1="753.5" y2="753.5" stroke="#4a4e5c" stroke-width="1.25"/>
<line x1="1698.0" x2="1703.6" y1="82.50" y2="82.50" stroke="#4a4e5c" stroke-width="1.4"/>
<text x="1708.20" y="89.00" font-size="15" fill="#666975" font-weight="normal" text-anchor="start" textLength="76.6" lengthAdjust="spacingAndGlyphs">0.04800000</text>
<line x1="1698.0" x2="1703.6" y1="137.50" y2="137.50" stroke="#4a4e5c" stroke-width="1.4"/>
<text x="1708.20" y="144.00" font-size="15" fill="#666975" font-weight="normal" text-anchor="start" textLength="76.6" lengthAdjust="spacingAndGlyphs">0.04750000</text>
<line x1="1698.0" x2="1703.6" y1="191.70" y2="191.70" stroke="#4a4e5c" stroke-width="1.4"/>
<text x="1708.20" y="198.20" font-size="15" fill="#666975" font-weight="normal" text-anchor="start" textLength="76.6" lengthAdjust="spacingAndGlyphs">0.04700000</text>
<line x1="1698.0" x2="1703.6" y1="246.50" y2="246.50" stroke="#4a4e5c" stroke-width="1.4"/>
<text x="1708.20" y="253.00" font-size="15" fill="#666975" font-weight="normal" text-anchor="start" textLength="76.6" lengthAdjust="spacingAndGlyphs">0.04650000</text>
<line x1="1698.0" x2="1703.6" y1="301.00" y2="301.00" stroke="#4a4e5c" stroke-width="1.4"/>
<text x="1708.20" y="307.50" font-size="15" fill="#666975" font-weight="normal" text-anchor="start" textLength="76.6" lengthAdjust="spacingAndGlyphs">0.04600000</text>
<line x1="1698.0" x2="1703.6" y1="356.40" y2="356.40" stroke="#4a4e5c" stroke-width="1.4"/>
<text x="1708.20" y="362.90" font-size="15" fill="#666975" font-weight="normal" text-anchor="start" textLength="76.6" lengthAdjust="spacingAndGlyphs">0.04550000</text>
<line x1="1698.0" x2="1703.6" y1="411.50" y2="411.50" stroke="#4a4e5c" stroke-width="1.4"/>
<text x="1708.20" y="418.00" font-size="15" fill="#666975" font-weight="normal" text-anchor="start" textLength="76.6" lengthAdjust="spacingAndGlyphs">0.04500000</text>
<line x1="1698.0" x2="1703.6" y1="465.60" y2="465.60" stroke="#4a4e5c" stroke-width="1.4"/>
<line x1="1698.0" x2="1703.6" y1="520.50" y2="520.50" stroke="#4a4e5c" stroke-width="1.4"/>
<text x="1708.20" y="527.00" font-size="15" fill="#666975" font-weight="normal" text-anchor="start" textLength="76.6" lengthAdjust="spacingAndGlyphs">0.04400000</text>
<line x1="1698.0" x2="1703.6" y1="575.50" y2="575.50" stroke="#4a4e5c" stroke-width="1.4"/>
<text x="1708.20" y="582.00" font-size="15" fill="#666975" font-weight="normal" text-anchor="start" textLength="76.6" lengthAdjust="spacingAndGlyphs">0.04350000</text>
<line x1="1698.0" x2="1703.6" y1="630.30" y2="630.30" stroke="#4a4e5c" stroke-width="1.4"/>
<text x="1708.20" y="636.80" font-size="15" fill="#666975" font-weight="normal" text-anchor="start" textLength="76.6" lengthAdjust="spacingAndGlyphs">0.04300000</text>
<line x1="1698.0" x2="1703.6" y1="685.30" y2="685.30" stroke="#4a4e5c" stroke-width="1.4"/>
<text x="1708.20" y="691.80" font-size="15" fill="#666975" font-weight="normal" text-anchor="start" textLength="76.6" lengthAdjust="spacingAndGlyphs">0.04250000</text>
<line x1="1698.0" x2="1703.6" y1="739.50" y2="739.50" stroke="#4a4e5c" stroke-width="1.4"/>
<text x="1708.20" y="746.00" font-size="15" fill="#666975" font-weight="normal" text-anchor="start" textLength="76.6" lengthAdjust="spacingAndGlyphs">0.04200000</text>
<rect x="1697.2" y="450.1" width="98.7" height="21.7" fill="#ef5350"/>
<line x1="1698.7" x2="1703.6" y1="461.5" y2="461.5" stroke="#fff" stroke-width="1.4"/>
<text x="1708.20" y="466.10" font-size="15" fill="#fff" font-weight="normal" text-anchor="start" textLength="76.6" lengthAdjust="spacingAndGlyphs">0.04453400</text>
<line x1="58.5" x2="58.5" y1="753.5" y2="758.7" stroke="#4a4e5c" stroke-width="1.4"/>
<text x="58.50" y="778.20" font-size="15" fill="#5d606b" font-weight="bold" text-anchor="middle" textLength="15.5" lengthAdjust="spacingAndGlyphs">17</text>
<line x1="158.5" x2="158.5" y1="753.5" y2="758.7" stroke="#4a4e5c" stroke-width="1.4"/>
<text x="157.80" y="778.20" font-size="15" fill="#666975" font-weight="normal" text-anchor="middle" textLength="36.6" lengthAdjust="spacingAndGlyphs">03:36</text>
<line x1="289.5" x2="289.5" y1="753.5" y2="758.7" stroke="#4a4e5c" stroke-width="1.4"/>
<text x="289.00" y="778.20" font-size="15" fill="#666975" font-weight="normal" text-anchor="middle" textLength="36.6" lengthAdjust="spacingAndGlyphs">06:30</text>
<line x1="450.7" x2="450.7" y1="753.5" y2="758.7" stroke="#4a4e5c" stroke-width="1.4"/>
<text x="450.40" y="778.20" font-size="15" fill="#666975" font-weight="normal" text-anchor="middle" textLength="36.6" lengthAdjust="spacingAndGlyphs">09:34</text>
<line x1="552.4" x2="552.4" y1="753.5" y2="758.7" stroke="#4a4e5c" stroke-width="1.4"/>
<text x="552.00" y="778.20" font-size="15" fill="#666975" font-weight="normal" text-anchor="middle" textLength="36.6" lengthAdjust="spacingAndGlyphs">12:32</text>
<line x1="733.5" x2="733.5" y1="753.5" y2="758.7" stroke="#4a4e5c" stroke-width="1.4"/>
<text x="733.00" y="778.20" font-size="15" fill="#666975" font-weight="normal" text-anchor="middle" textLength="36.6" lengthAdjust="spacingAndGlyphs">14:24</text>
<line x1="853.3" x2="853.3" y1="753.5" y2="758.7" stroke="#4a4e5c" stroke-width="1.4"/>
<text x="852.80" y="778.20" font-size="15" fill="#666975" font-weight="normal" text-anchor="middle" textLength="36.6" lengthAdjust="spacingAndGlyphs">15:26</text>
<line x1="984.7" x2="984.7" y1="753.5" y2="758.7" stroke="#4a4e5c" stroke-width="1.4"/>
<text x="984.40" y="778.20" font-size="15" fill="#666975" font-weight="normal" text-anchor="middle" textLength="36.6" lengthAdjust="spacingAndGlyphs">19:27</text>
<line x1="1145.9" x2="1145.9" y1="753.5" y2="758.7" stroke="#4a4e5c" stroke-width="1.4"/>
<text x="1145.30" y="778.20" font-size="15" fill="#666975" font-weight="normal" text-anchor="middle" textLength="36.6" lengthAdjust="spacingAndGlyphs">20:31</text>
<line x1="1277.4" x2="1277.4" y1="753.5" y2="758.7" stroke="#4a4e5c" stroke-width="1.4"/>
<text x="1277.00" y="778.20" font-size="15" fill="#666975" font-weight="normal" text-anchor="middle" textLength="36.6" lengthAdjust="spacingAndGlyphs">21:35</text>
<line x1="1447.4" x2="1447.4" y1="753.5" y2="758.7" stroke="#4a4e5c" stroke-width="1.4"/>
<text x="1447.00" y="778.20" font-size="15" fill="#5d606b" font-weight="bold" text-anchor="middle" textLength="15.5" lengthAdjust="spacingAndGlyphs">18</text>
<line x1="1598.5" x2="1598.5" y1="753.5" y2="758.7" stroke="#4a4e5c" stroke-width="1.4"/>
<text x="1598.00" y="778.20" font-size="15" fill="#666975" font-weight="normal" text-anchor="middle" textLength="36.6" lengthAdjust="spacingAndGlyphs">07:01</text>
<g><circle cx="22.2" cy="808.0" r="7.2" fill="#2196f3"/><circle cx="12.6" cy="813.0" r="4.8" fill="#2196f3"/><circle cx="33.6" cy="812.6" r="6.4" fill="#2196f3"/><rect x="9.2" y="810" width="27.5" height="9.9" rx="3" fill="#2196f3"/><rect x="7.9" y="812.5" width="32.2" height="7.4" rx="3.4" fill="#2196f3"/><path d="M10 817.2L20 807.9L27.8 815.9L37 808.5" fill="none" stroke="#fff" stroke-width="1.2"/><circle cx="20" cy="807.9" r="2" fill="#fff"/><circle cx="27.8" cy="815.9" r="2" fill="#fff"/></g>
<text x="42.60" y="815.90" font-size="16.3" fill="#1f2333" font-weight="normal" text-anchor="start" textLength="88.6" lengthAdjust="spacingAndGlyphs">TradingView</text>
</svg></body></html>
